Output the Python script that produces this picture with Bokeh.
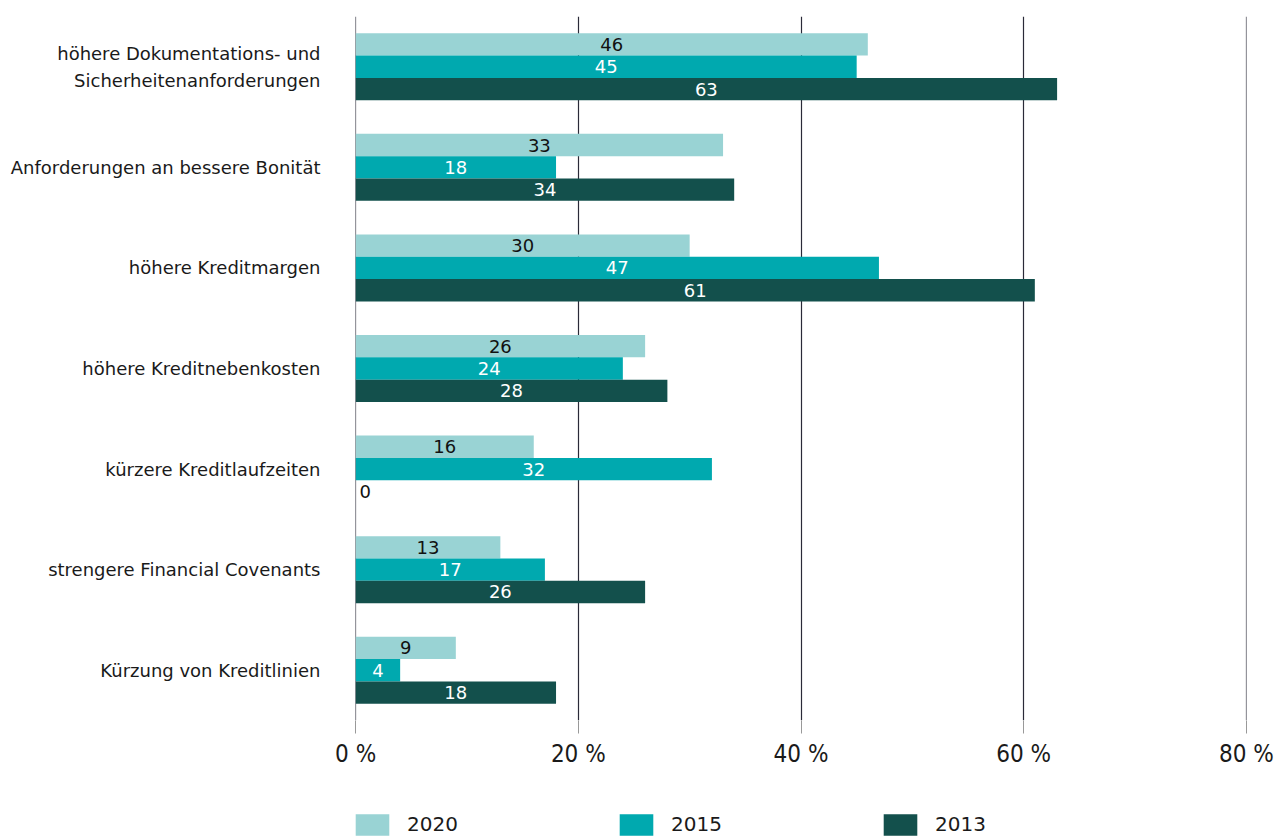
from bokeh.plotting import figure
from bokeh.layouts import column
from bokeh.models import ColumnDataSource, Range1d, FactorRange, Legend, LegendItem, FixedTicker
from bokeh.transform import dodge
from bokeh.core.properties import value
from bokeh.embed import file_html
from bokeh.resources import INLINE

categories = [
    "höhere Dokumentations- und\nSicherheitenanforderungen",
    "Anforderungen an bessere Bonität",
    "höhere Kreditmargen",
    "höhere Kreditnebenkosten",
    "kürzere Kreditlaufzeiten",
    "strengere Financial Covenants",
    "Kürzung von Kreditlinien",
]
years = ["2020", "2015", "2013"]
v2020 = [46, 33, 30, 26, 16, 13, 9]
v2015 = [45, 18, 47, 24, 32, 17, 4]
v2013 = [63, 34, 61, 28, 0, 26, 18]
x_ticks = [0, 20, 40, 60, 80]
x_tick_labels = ["0 %", "20 %", "40 %", "60 %", "80 %"]

colors = ["#99d3d4", "#00a9af", "#13504c"]
label_colors = ["#111111", "#ffffff", "#ffffff"]
offsets = [0.222, 0.0, -0.222]
bar_h = 0.222

FONT = "DejaVu Sans"

p = figure(
    width=1276, height=790,
    y_range=FactorRange(factors=list(reversed(categories))),
    x_range=Range1d(x_ticks[0] - 0.01, x_ticks[-1] + 0.01),
    output_backend="svg", toolbar_location=None,
    min_border_left=355, min_border_right=30, min_border_top=16, min_border_bottom=70,
)
p.outline_line_color = None
p.ygrid.visible = False
p.xgrid.ticker = FixedTicker(ticks=x_ticks)
p.xgrid.grid_line_color = "#2a2a38"
p.xgrid.grid_line_width = 1.2

series = [v2020, v2015, v2013]
for i, vals in enumerate(series):
    src = ColumnDataSource(dict(cat=categories, v=vals))
    p.hbar(y=dodge("cat", offsets[i], range=p.y_range), right="v", left=0,
           height=bar_h, source=src, fill_color=colors[i], line_color=None)
    nz = [j for j, v in enumerate(vals) if v > 0]
    z = [j for j, v in enumerate(vals) if v == 0]
    src_nz = ColumnDataSource(dict(cat=[categories[j] for j in nz],
                                   mid=[vals[j] / 2 for j in nz],
                                   lab=[str(vals[j]) for j in nz]))
    p.text(x="mid", y=dodge("cat", offsets[i], range=p.y_range), text="lab", source=src_nz,
           text_align="center", text_baseline="middle", text_color=label_colors[i],
           text_font=value(FONT), text_font_size="18px")
    if z:
        src_z = ColumnDataSource(dict(cat=[categories[j] for j in z],
                                      x0=[vals[j] for j in z],
                                      lab=[str(vals[j]) for j in z]))
        p.text(x="x0", y=dodge("cat", offsets[i], range=p.y_range), text="lab", source=src_z,
               text_align="left", text_baseline="middle", text_color="#111111",
               x_offset=4, text_font=value(FONT), text_font_size="18px")

# x axis
xa = p.xaxis[0]
xa.ticker = FixedTicker(ticks=x_ticks)
xa.major_label_overrides = dict(zip(x_ticks, x_tick_labels))
xa.axis_line_color = None
xa.major_tick_in = 0
xa.major_tick_out = 13
xa.major_tick_line_color = "#999999"
xa.minor_tick_line_color = None
xa.major_label_standoff = 6
xa.major_label_text_font = "DejaVu Sans Condensed"
xa.major_label_text_font_size = "24px"
xa.major_label_text_color = "#1a1a1a"

# y axis
ya = p.yaxis[0]
ya.axis_line_color = None
ya.major_tick_line_color = None
ya.minor_tick_line_color = None
ya.major_tick_out = 0
ya.major_tick_in = 0
ya.major_label_standoff = 35
ya.major_label_text_font = FONT
ya.major_label_text_font_size = "18px"
ya.major_label_text_color = "#1a1a1a"
ya.major_label_text_line_height = 1.3

# legend strip (separate figure directly below)
lg = figure(
    width=1276, height=47, x_range=Range1d(0, 1), y_range=Range1d(0, 1),
    output_backend="svg", toolbar_location=None,
    x_axis_location=None, y_axis_location=None,
    min_border_left=355, min_border_right=30, min_border_top=0, min_border_bottom=0,
)
lg.outline_line_color = None
lg.grid.visible = False
keys = []
for i in range(3):
    # zero-width key bar: only its legend swatch is visible
    r = lg.hbar(y=[0.5], right=[0], left=[0], height=1, fill_color=colors[i], line_color=None)
    keys.append(LegendItem(label=years[i], renderers=[r]))
legend = Legend(
    items=keys, location=(-4, -2), orientation="horizontal",
    glyph_width=42, glyph_height=27, label_standoff=14, spacing=148, label_width=60,
    padding=0, margin=0, border_line_color=None, background_fill_alpha=0,
    label_text_font=FONT, label_text_font_size="20px", label_text_color="#1a1a1a",
    label_height=30,
)
lg.add_layout(legend)

layout = column(p, lg, spacing=0)
open("out.html", "w").write(file_html(layout, INLINE))
